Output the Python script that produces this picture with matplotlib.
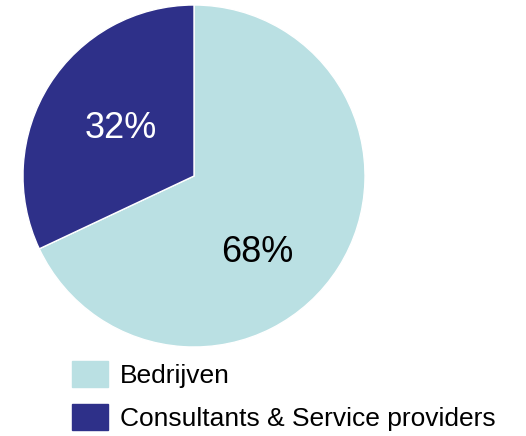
import matplotlib
matplotlib.use('Agg')
import matplotlib.pyplot as plt

# gegevens
labels = ['Bedrijven', 'Consultants & Service providers']
waarden = [68, 32]
kleuren = ['#bae0e3', '#2e3089']

plt.rcParams['font.family'] = ['Liberation Sans', 'DejaVu Sans']

fig = plt.figure(figsize=(5.26, 4.36), dpi=100)
ax = fig.add_axes([0, 0, 1, 1])

wedges, _ = ax.pie(waarden, colors=kleuren, startangle=90, counterclock=False,
                   center=(194, 260), radius=171, frame=False,
                   wedgeprops={'edgecolor': 'white', 'linewidth': 1})
ax.set_xlim(0, 526)
ax.set_ylim(0, 436)
ax.set_aspect('equal')
ax.axis('off')

# percentages
ax.text(257, 183, '%d%%' % waarden[0], fontsize=26, color='black',
        ha='center', va='center')
ax.text(121, 307, '%d%%' % waarden[1], fontsize=26, color='white',
        ha='center', va='center')

leg = ax.legend(wedges, labels, loc='upper left', frameon=False,
                bbox_to_anchor=(72 / 526, 1 - 361 / 436), bbox_transform=fig.transFigure,
                fontsize=19, handlelength=1.35, handleheight=1.15,
                labelspacing=0.6, handletextpad=0.45, borderpad=0, borderaxespad=0)
for h in leg.legend_handles:
    h.set_edgecolor(h.get_facecolor())

fig.savefig('out.png', dpi=100)
